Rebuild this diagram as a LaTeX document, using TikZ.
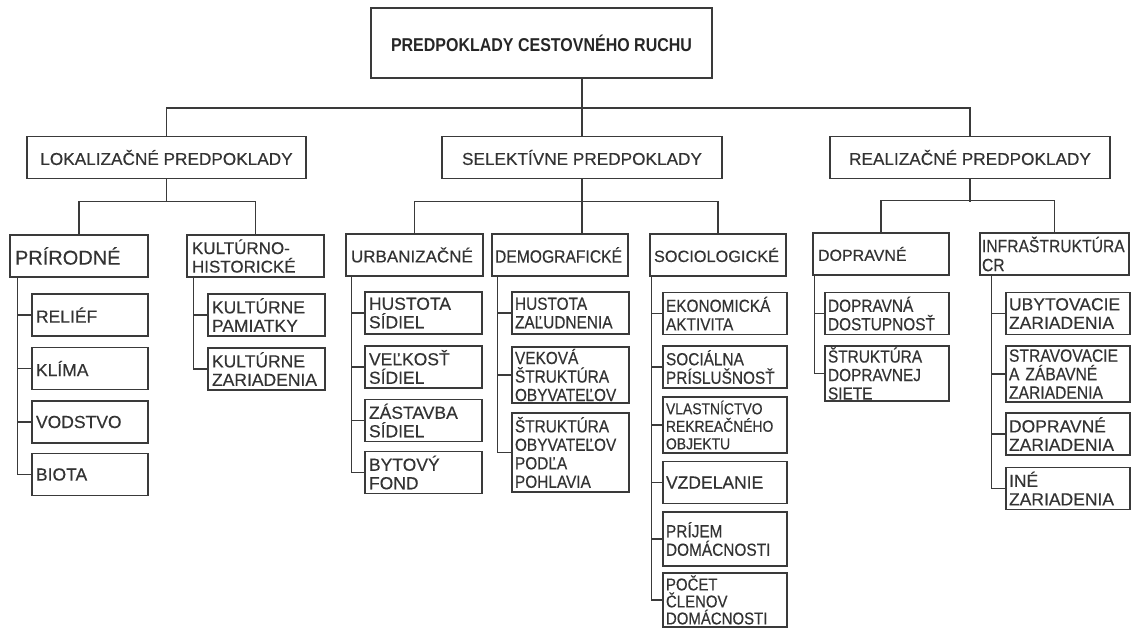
\documentclass[tikz,border=0pt]{standalone}
\usepackage{fontspec}
\setmainfont{Liberation Sans}[FakeBold=0.35]
\newfontfamily\narrowfont{Liberation Sans}[FakeStretch=0.88,FakeBold=0.35]
\newfontfamily\titlefont{Liberation Sans Bold}[FakeStretch=0.86]
\usepackage{xcolor}
\definecolor{linegray}{HTML}{3A3A3A}
\definecolor{textgray}{HTML}{333333}
\newcommand\leaffont{\fontsize{17.5}{18.5}\selectfont}
\newcommand\narrowleaf{\narrowfont\fontsize{17.5}{18.5}\selectfont}

\begin{document}
\begin{tikzpicture}[x=1pt,y=-1pt,
		box/.style={rectangle,draw=linegray,line width=1.5pt,inner sep=0pt,text=textgray,minimum height=42pt},
		group/.style={box,minimum width=280pt,font=\fontsize{17.2}{20}\selectfont},
		kind/.style={box,inner xsep=5pt,text width=#1,align=left,font=\fontsize{17}{18.5}\selectfont},
		leaf/.style={box,inner xsep=4pt,text width=#1,align=left,font=\leaffont},
		link/.style={draw=linegray,line width=1.5pt}]
				\useasboundingbox (0,0) rectangle (1135,627);
				\node(title) at (541.5,43)[box,minimum width=341pt,minimum height=70pt,text=black!85,font=\titlefont\fontsize{18.6}{20}\selectfont]{PREDPOKLADY CESTOVNÉHO RUCHU};
				\node(lok) at (166.5,157.5)[group,minimum width=279pt]{LOKALIZAČNÉ PREDPOKLADY};
				\node(sel) at (582,157.5)[group]{SELEKTÍVNE PREDPOKLADY};
				\node(rea) at (970,157.5)[group]{REALIZAČNÉ PREDPOKLADY};

				\node(prir) at (79,256)[kind=128pt,font=\fontsize{20}{22}\selectfont]{PRÍRODNÉ};
				\node(kult) at (255.5,256)[kind=127pt]{KULTÚRNO-\\HISTORICKÉ};
				\node(urb) at (414.5,255)[kind=127pt]{URBANIZAČNÉ};
				\node(dem) at (560,255)[kind=126pt,inner xsep=3pt,text width=130pt,font=\narrowfont\fontsize{17.8}{18.5}\selectfont]{DEMOGRAFICKÉ};
				\node(soc) at (718,255)[kind=128pt,inner xsep=4pt,font=\fontsize{16.3}{18}\selectfont]{SOCIOLOGICKÉ};
				\node(dop) at (881,254)[kind=126pt,font=\fontsize{16}{18}\selectfont]{DOPRAVNÉ};
				\node(inf) at (1054.5,254)[kind=145pt,inner xsep=2pt,font=\narrowfont\fontsize{17.8}{19}\selectfont]{INFRAŠTRUKTÚRA\\CR};

				\node(relief) at (90,315)[leaf=108pt]{RELIÉF};
				\node(klima) at (90,368.5)[leaf=108pt]{KLÍMA};
				\node(vodstvo) at (90,422)[leaf=108pt]{VODSTVO};
				\node(biota) at (90,474.5)[leaf=108pt]{BIOTA};

				\node(kpam) at (266.5,315)[leaf=109pt]{KULTÚRNE\\PAMIATKY};
				\node(kzar) at (266.5,369)[leaf=109pt]{KULTÚRNE\\ZARIADENIA};

				\node(hsid) at (423.5,313)[leaf=109pt]{HUSTOTA\\SÍDIEL};
				\node(vsid) at (423.5,367)[leaf=109pt]{VEĽKOSŤ\\SÍDIEL};
				\node(zsid) at (423.5,420.5)[leaf=109pt]{ZÁSTAVBA\\SÍDIEL};
				\node(bfond) at (423.5,472.5)[leaf=109pt]{BYTOVÝ\\FOND};

				\node(hzal) at (570.5,313)[leaf=111pt,inner xsep=3pt,font=\narrowleaf]{HUSTOTA\\ZAĽUDNENIA};
				\node(vek) at (570.5,375)[leaf=111pt,inner xsep=3pt,minimum height=56pt,font=\narrowleaf]{VEKOVÁ\\ŠTRUKTÚRA\\OBYVATEĽOV};
				\node(sobyv) at (570.5,452.5)[leaf=111pt,inner xsep=3pt,minimum height=79pt,font=\narrowleaf]{ŠTRUKTÚRA\\OBYVATEĽOV\\PODĽA\\POHLAVIA};

				\node(ekon) at (725,313.5)[leaf=118pt,inner xsep=3pt,font=\narrowleaf]{EKONOMICKÁ\\AKTIVITA};
				\node(socp) at (725,367)[leaf=118pt,inner xsep=3pt,font=\narrowleaf]{SOCIÁLNA\\PRÍSLUŠNOSŤ};
				\node(vlast) at (725,425)[leaf=118pt,inner xsep=3pt,minimum height=56pt,font=\narrowfont\fontsize{15.8}{17.5}\selectfont]{VLASTNÍCTVO\\REKREAČNÉHO\\OBJEKTU};
				\node(vzdel) at (725,482.5)[leaf=118pt,inner xsep=3pt]{VZDELANIE};
				\node(prijem) at (725,539)[leaf=118pt,inner xsep=3pt,minimum height=54pt,font=\narrowleaf]{PRÍJEM\\DOMÁCNOSTI};
				\node(pocet) at (725,600)[leaf=118pt,inner xsep=3pt,minimum height=54pt,font=\narrowfont\fontsize{17}{17}\selectfont]{POČET\\ČLENOV\\DOMÁCNOSTI};

				\node(ddost) at (887,313.5)[leaf=118pt,inner xsep=3pt,font=\narrowleaf]{DOPRAVNÁ\\DOSTUPNOSŤ};
				\node(sdop) at (887,373.5)[leaf=118pt,inner xsep=3pt,minimum height=55pt,font=\narrowleaf]{ŠTRUKTÚRA\\DOPRAVNEJ\\SIETE};

				\node(ubyt) at (1068,313.5)[leaf=118pt,inner xsep=3pt]{UBYTOVACIE\\ZARIADENIA};
				\node(strav) at (1068,374)[leaf=118pt,inner xsep=3pt,minimum height=56pt,font=\narrowfont\fontsize{17.8}{18.5}\selectfont]{STRAVOVACIE\\A ZÁBAVNÉ\\ZARIADENIA};
				\node(dzar) at (1068,434)[leaf=118pt,inner xsep=3pt]{DOPRAVNÉ\\ZARIADENIA};
				\node(ine) at (1068,488.5)[leaf=118pt,inner xsep=3pt]{INÉ\\ZARIADENIA};

				% top levels
				\draw[link] (title.south -| sel.north) -- (sel.north);
				\draw[link] (lok.north) -- ++(0,-28) -| (rea.north);
				\draw[link] (lok.south) -- ++(0,23);
				\draw[link] (prir.north) -- ++(0,-33) -| (kult.north);
				\draw[link] (sel.south) -- (sel.south |- dem.north);
				\draw[link] (urb.north) -- ++(0,-32) -| (soc.north);
				\draw[link] (rea.south) -- ++(0,23);
				\draw[link] (dop.north) -- ++(0,-32) -| (inf.north);

				\foreach \l in {relief,klima,vodstvo,biota}
					\draw[link] ([xshift=8pt]prir.south west) |- (\l.west);
				\foreach \l in {kpam,kzar}
					\draw[link] ([xshift=7pt]kult.south west) |- (\l.west);
				\foreach \l in {hsid,vsid,zsid,bfond}
					\draw[link] ([xshift=6pt]urb.south west) |- (\l.west);
				\foreach \l in {hzal,vek,sobyv}
					\draw[link] ([xshift=6pt]dem.south west) |- (\l.west);
				\foreach \l in {ekon,socp,vlast,vzdel,prijem,pocet}
					\draw[link] ([xshift=2pt]soc.south west) |- (\l.west);
				\foreach \l in {ddost,sdop}
					\draw[link] ([xshift=2pt]dop.south west) |- (\l.west);
				\foreach \l in {ubyt,strav,dzar,ine}
					\draw[link] ([xshift=12pt]inf.south west) |- (\l.west);
			\end{tikzpicture}
\end{document}
